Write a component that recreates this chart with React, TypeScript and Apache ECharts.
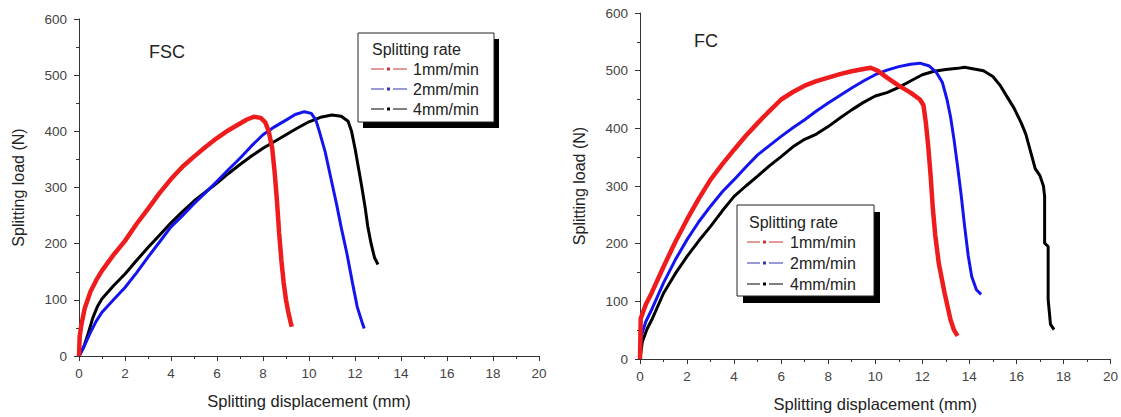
import React, { useEffect, useRef } from "react";
import * as echarts from "echarts";

// FSC panel (left)
const fscRate1: number[][] = [
  [0, 0], [0.03, 35], [0.1, 55], [0.25, 85], [0.5, 115], [0.75, 135], [1, 152], [1.5, 180],
  [2, 205], [2.5, 235], [3, 262], [3.5, 290], [4, 315], [4.5, 337], [5, 355], [5.5, 372],
  [6, 388], [6.5, 402], [7, 414], [7.3, 421], [7.6, 426], [7.9, 424], [8.1, 416], [8.25, 400],
  [8.4, 370], [8.5, 330], [8.6, 280], [8.7, 220], [8.8, 170], [8.9, 130], [9.0, 100],
  [9.1, 78], [9.2, 60], [9.25, 52],
];
const fscRate2: number[][] = [
  [0, 0], [0.25, 20], [0.5, 42], [0.75, 62], [1, 78], [1.5, 100], [2, 122], [2.5, 148],
  [3, 176], [3.5, 203], [4, 230], [4.5, 250], [5, 271], [5.5, 291], [6, 311], [6.5, 332],
  [7, 352], [7.5, 374], [8, 394], [8.5, 408], [9, 420], [9.4, 430], [9.8, 435], [10.1, 432],
  [10.3, 420], [10.45, 400], [10.7, 364], [10.95, 317], [11.2, 270], [11.4, 229],
  [11.65, 182], [11.9, 128], [12.1, 87], [12.3, 61], [12.4, 49],
];
const fscRate4: number[][] = [
  [0, 0], [0.2, 15], [0.4, 40], [0.6, 68], [0.8, 88], [1, 102], [1.5, 125], [2, 146],
  [2.5, 170], [3, 193], [3.5, 215], [4, 237], [4.5, 257], [5, 276], [5.5, 292], [6, 308],
  [6.5, 325], [7, 341], [7.5, 356], [8, 370], [8.5, 382], [9, 394], [9.5, 406], [10, 417],
  [10.5, 425], [11, 429], [11.4, 427], [11.7, 418], [11.85, 400], [12, 370], [12.15, 335],
  [12.3, 300], [12.45, 262], [12.55, 232], [12.7, 200], [12.85, 175], [13, 163],
];

// FC panel (right)
const fcRate1: number[][] = [
  [0, 0], [0.03, 70], [0.25, 95], [0.5, 115], [1, 160], [1.5, 203], [2, 242], [2.5, 278],
  [3, 311], [3.5, 338], [4, 363], [4.5, 387], [5, 409], [5.5, 430], [6, 450], [6.5, 463],
  [7, 474], [7.5, 482], [8, 488], [8.5, 494], [9, 499], [9.5, 503], [9.8, 505], [10.1, 500],
  [10.5, 488], [11, 474], [11.5, 462], [11.9, 450], [12.05, 440], [12.15, 410], [12.25, 370],
  [12.35, 320], [12.45, 260], [12.55, 215], [12.7, 166], [12.95, 114], [13.2, 68],
  [13.35, 50], [13.5, 40],
];
const fcRate2: number[][] = [
  [0, 0], [0.05, 40], [0.25, 65], [0.5, 86], [1, 132], [1.5, 172], [2, 207], [2.5, 238],
  [3, 265], [3.5, 290], [4, 311], [4.5, 333], [5, 354], [5.5, 370], [6, 386], [6.5, 401],
  [7, 415], [7.5, 430], [8, 444], [8.5, 457], [9, 470], [9.5, 482], [10, 493], [10.5, 501],
  [11, 507], [11.5, 511], [11.9, 513], [12.3, 508], [12.6, 497], [12.85, 480], [13.05, 450],
  [13.2, 420], [13.35, 380], [13.5, 334], [13.65, 285], [13.8, 230], [13.95, 180],
  [14.1, 143], [14.3, 120], [14.5, 112],
];
const fcRate4: number[][] = [
  [0, 0], [0.1, 30], [0.3, 52], [0.5, 68], [1, 114], [1.5, 148], [2, 178], [2.5, 205],
  [3, 230], [3.5, 257], [4, 282], [4.5, 300], [5, 317], [5.5, 335], [6, 351], [6.5, 368],
  [7, 381], [7.5, 390], [8, 403], [8.5, 418], [9, 432], [9.5, 445], [10, 456], [10.5, 462],
  [11, 471], [11.5, 482], [12, 493], [12.5, 499], [13, 502], [13.5, 504], [13.8, 506],
  [14.2, 503], [14.6, 500], [15, 490], [15.3, 475], [15.6, 455], [15.9, 435], [16.2, 410],
  [16.4, 390], [16.6, 360], [16.8, 330], [17.0, 318], [17.15, 300], [17.2, 282], [17.2, 201],
  [17.35, 195], [17.35, 103], [17.45, 60], [17.6, 51],
];

const seriesNames = ["1mm/min", "2mm/min", "4mm/min"];
const seriesColors = ["#ee1c1c", "#1414ee", "#000000"];
const legendColors = ["#cc3333", "#3333aa", "#000000"];
const panelLabels = ["FSC", "FC"];
const xTitle = "Splitting displacement (mm)";
const yTitle = "Splitting load (N)";
const legendTitle = "Splitting rate";

const FONT = "'Liberation Sans', Arial, sans-serif";

function legendGraphic(bx: number, by: number, bw: number, bh: number, sx: number, sy: number, titleX: number, titleY: number, rowYs: number[], sampleX: number, textX: number) {
  const els: any[] = [
    { type: "rect", shape: { x: bx + sx, y: by + sy, width: bw, height: bh }, style: { fill: "#000" } },
    { type: "rect", shape: { x: bx, y: by, width: bw, height: bh }, style: { fill: "#fff", stroke: "#222", lineWidth: 1 } },
    { type: "text", x: titleX, y: titleY, style: { text: legendTitle, font: `16px ${FONT}`, fill: "#222", textVerticalAlign: "middle" } },
  ];
  rowYs.forEach((ry, i) => {
    const c = legendColors[i];
    els.push({ type: "line", shape: { x1: sampleX, y1: ry, x2: sampleX + 13, y2: ry }, style: { stroke: c, lineWidth: 1 } });
    els.push({ type: "rect", shape: { x: sampleX + 16, y: ry - 1.5, width: 3, height: 3 }, style: { fill: c } });
    els.push({ type: "line", shape: { x1: sampleX + 22, y1: ry, x2: sampleX + 36, y2: ry }, style: { stroke: c, lineWidth: 1 } });
    els.push({ type: "text", x: textX, y: ry, style: { text: seriesNames[i], font: `16px ${FONT}`, fill: "#222", textVerticalAlign: "middle" } });
  });
  return els;
}

export default function App() {
  const ref = useRef<HTMLDivElement>(null);
  useEffect(() => {
    document.body.style.margin = "0";
    const chart = echarts.init(ref.current!, null, { renderer: "svg" });
    const axisLine = { show: true, lineStyle: { color: "#333", width: 1 } };
    const mkX = (gi: number) => ({
      type: "value", gridIndex: gi, min: 0, max: 20, interval: 2,
      axisLine, axisTick: { show: true, inside: false, length: 5, lineStyle: { color: "#333" } },
      minorTick: { show: true, splitNumber: 2, length: 3, lineStyle: { color: "#333" } },
      splitLine: { show: false },
      axisLabel: { color: "#444", fontSize: 13.5, fontFamily: FONT, margin: 10 },
      name: xTitle, nameLocation: "middle", nameGap: 36,
      nameTextStyle: { color: "#222", fontSize: 16.5, fontFamily: FONT },
    });
    const mkY = (gi: number) => ({
      type: "value", gridIndex: gi, min: 0, max: 600, interval: 100,
      axisLine, axisTick: { show: true, inside: false, length: 5, lineStyle: { color: "#333" } },
      minorTick: { show: true, splitNumber: 2, length: 3, lineStyle: { color: "#333" } },
      splitLine: { show: false },
      axisLabel: { color: "#444", fontSize: 13.5, fontFamily: FONT, margin: 12 },
      name: yTitle, nameLocation: "middle", nameGap: 53,
      nameTextStyle: { color: "#222", fontSize: 16, fontFamily: FONT },
    });
    const datasets = [[fscRate1, fscRate2, fscRate4], [fcRate1, fcRate2, fcRate4]];
    const widths = [4.5, 3, 3];
    const series: any[] = [];
    datasets.forEach((ds, gi) => {
      ds.forEach((d, si) => {
        series.push({
          type: "line", name: seriesNames[si], xAxisIndex: gi, yAxisIndex: gi, data: d,
          showSymbol: false, symbol: "none", lineStyle: { color: seriesColors[si], width: widths[si] },
          z: 3 - si,
        });
      });
    });
    chart.setOption({
      animation: false,
      backgroundColor: "#fff",
      grid: [
        { left: 79, width: 460, top: 19, height: 337 },
        { left: 640, width: 473, top: 13, height: 346 },
      ],
      xAxis: [mkX(0), mkX(1)],
      yAxis: [mkY(0), mkY(1)],
      series,
      graphic: [
        { type: "text", x: 149, y: 52, style: { text: panelLabels[0], font: `18px ${FONT}`, fill: "#222", textVerticalAlign: "middle" } },
        { type: "text", x: 694, y: 41, style: { text: panelLabels[1], font: `18px ${FONT}`, fill: "#222", textVerticalAlign: "middle" } },
        ...legendGraphic(358, 33, 136, 89, 5, 6, 372, 49, [69, 89, 109], 371, 413),
        ...legendGraphic(737, 205, 137, 91, 6, 7, 749, 222, [242, 263, 284], 747, 790),
      ],
    });
    return () => chart.dispose();
  }, []);
  return <div ref={ref} style={{ width: 1121, height: 417 }} />;
}
